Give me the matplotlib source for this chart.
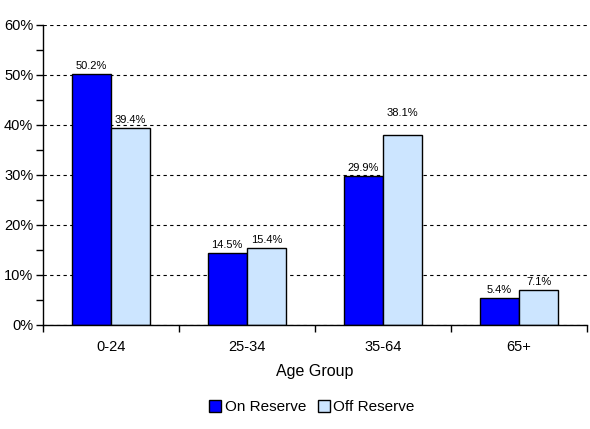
import matplotlib
matplotlib.use("Agg")
import matplotlib.pyplot as plt
import numpy as np
from matplotlib.ticker import MultipleLocator, FuncFormatter

categories = ["0-24", "25-34", "35-64", "65+"]
on_reserve = [50.2, 14.5, 29.9, 5.4]
off_reserve = [39.4, 15.4, 38.1, 7.1]
series_names = ["On Reserve", "Off Reserve"]

plt.rcParams['font.family'] = ['Liberation Sans', 'DejaVu Sans']

fig = plt.figure(figsize=(5.9, 4.29), dpi=100)
ax = fig.add_axes([43/590, 1-325/429, (587-43)/590, 300/429])

x = np.arange(len(categories))
w = 0.29
b1 = ax.bar(x - w/2, on_reserve, w, color="#0000FF", edgecolor="black", linewidth=1, label=series_names[0], zorder=3)
b2 = ax.bar(x + w/2, off_reserve, w, color="#CCE5FF", edgecolor="black", linewidth=1, label=series_names[1], zorder=3)

extra = {(1, 2): 10}
for si, (bars, vals) in enumerate([(b1, on_reserve), (b2, off_reserve)]):
    for i, (bar, v) in enumerate(zip(bars, vals)):
        off = 2 + extra.get((si, i), 0)
        ax.annotate(f"{v:.1f}%", (bar.get_x() + bar.get_width()/2, v),
                    xytext=(0, off), textcoords="offset points",
                    ha="center", va="bottom", fontsize=8, zorder=4)

ax.set_xlim(-0.5, len(categories) - 0.5)
ax.set_ylim(0, 60)
ax.yaxis.set_major_locator(MultipleLocator(10))
ax.yaxis.set_minor_locator(MultipleLocator(5))
ax.yaxis.set_major_formatter(FuncFormatter(lambda v, p: f"{v:.0f}%"))
ax.grid(axis="y", which="major", color="black", linestyle=(0, (3, 3)), linewidth=0.8, zorder=0)

ax.set_xticks(x)
ax.set_xticklabels(categories, fontsize=10.5)
ax.set_xticks(np.arange(len(categories) + 1) - 0.5, minor=True)
ax.tick_params(axis="x", which="major", length=0, pad=11)
ax.tick_params(axis="x", which="minor", length=5, direction="out", width=1)
ax.tick_params(axis="y", which="major", length=5, direction="out", width=1, labelsize=10.5, pad=2)
ax.tick_params(axis="y", which="minor", length=5, direction="out", width=1)

for s in ["top", "right"]:
    ax.spines[s].set_visible(False)
for s in ["left", "bottom"]:
    ax.spines[s].set_linewidth(1)
    ax.spines[s].set_zorder(5)

ax.set_xlabel("Age Group", fontsize=11.5, labelpad=7)

fig.legend(handles=[b1, b2], labels=series_names, loc="center", bbox_to_anchor=(312/590, 1-407/429),
           ncol=2, frameon=False, fontsize=11, handlelength=0.8, handleheight=0.8,
           handletextpad=0.2, columnspacing=0.8)

fig.savefig("out.png", dpi=100)
